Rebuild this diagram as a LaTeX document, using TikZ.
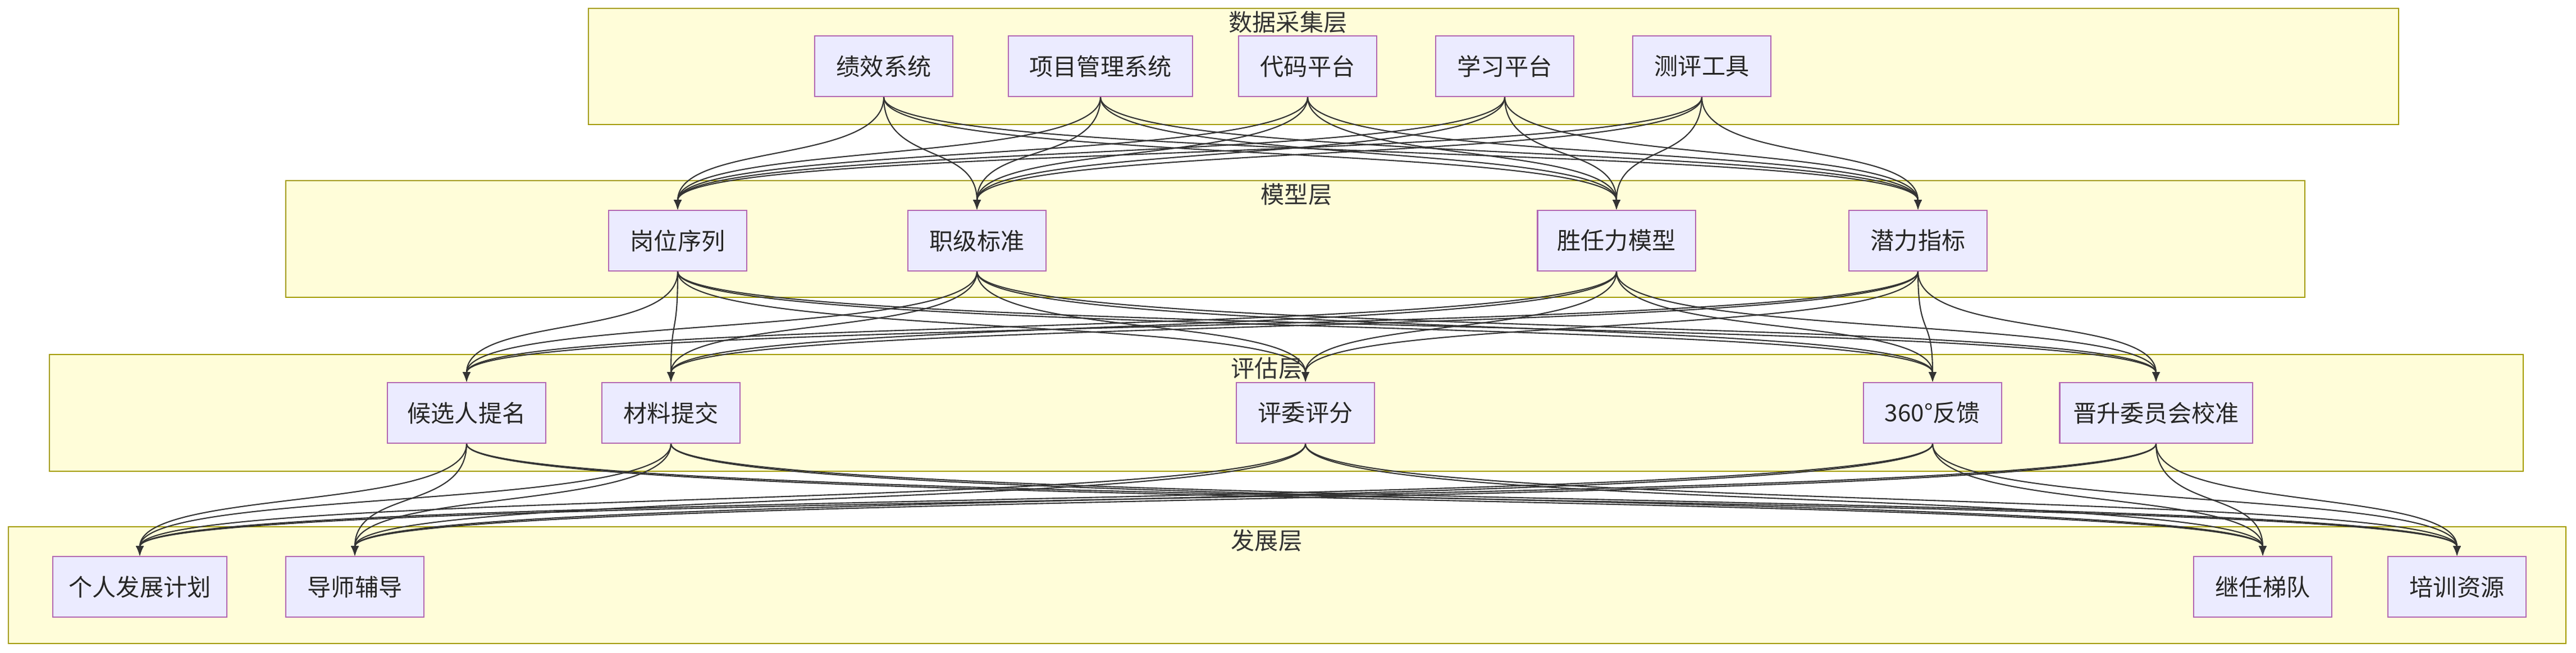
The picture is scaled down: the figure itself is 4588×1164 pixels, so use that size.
\documentclass[tikz,border=0pt]{standalone}
\usepackage{fontspec}
\setmainfont{Noto Sans CJK SC}
\usetikzlibrary{arrows.meta,positioning}
\begin{document}
\begin{tikzpicture}[x=0.01cm,y=-0.01cm,
  layer/.style={draw=olive!80!yellow,fill=yellow!15,line width=0.8pt},
  title/.style={font=\fontsize{12}{14}\selectfont,text=black!80},
  box/.style={rectangle,draw=violet!60,fill=blue!8,line width=0.6pt,minimum height=1.08cm,minimum width=2.46cm,font=\fontsize{12}{14}\selectfont,text=black!85},
  line/.style={draw=black!80,line width=0.6pt,-{Latex[length=5pt,width=4pt]}}]
  \useasboundingbox (0,0) rectangle (4588,1164);
  % layers
  \draw[layer] (1048,15) rectangle (4272,222);
  \draw[layer] (509,322) rectangle (4105,530);
  \draw[layer] (88,632) rectangle (4494,840);
  \draw[layer] (15,939) rectangle (4570,1147);
  \node[title] at (2294,40) {数据采集层};
  \node[title] at (2309,347) {模型层};
  \node[title] at (2256,657) {评估层};
  \node[title] at (2256,964) {发展层};
  % data sources
  \node[box] (perf) at (1574,118) {绩效系统};
  \node[box,minimum width=3.27cm] (pm) at (1960,118) {项目管理系统};
  \node[box] (code) at (2329,118) {代码平台};
  \node[box] (learn) at (2680,118) {学习平台};
  \node[box] (test) at (3031,118) {测评工具};
  % models
  \node[box] (seq) at (1207,429) {岗位序列};
  \node[box] (grade) at (1740,429) {职级标准};
  \node[box,minimum width=2.81cm] (comp) at (2879,429) {胜任力模型};
  \node[box] (pot) at (3416,429) {潜力指标};
  % evaluation
  \node[box,minimum width=2.81cm] (nom) at (831,736) {候选人提名};
  \node[box] (mat) at (1195,736) {材料提交};
  \node[box] (jury) at (2325,736) {评委评分};
  \node[box] (fb) at (3442,736) {360°反馈};
  \node[box,minimum width=3.43cm] (calib) at (3840,736) {晋升委员会校准};
  % development
  \node[box,minimum width=3.1cm] (idp) at (249,1046) {个人发展计划};
  \node[box] (mentor) at (632,1046) {导师辅导};
  \node[box] (succ) at (4030,1046) {继任梯队};
  \node[box] (train) at (4376,1046) {培训资源};
  % connectors
  \foreach \s in {perf,pm,code,learn,test}
    \foreach \t in {seq,grade,comp,pot}
      \draw[line] (\s.south) .. controls +(0,120) and +(0,-120) .. (\t.north);
  \foreach \s in {seq,grade,comp,pot}
    \foreach \t in {nom,mat,fb,calib,jury}
      \draw[line] (\s.south) .. controls +(0,120) and +(0,-120) .. (\t.north);
  \foreach \s in {nom,mat,jury,fb,calib}
    \foreach \t in {idp,mentor,succ,train}
      \draw[line] (\s.south) .. controls +(0,120) and +(0,-120) .. (\t.north);
\end{tikzpicture}
\end{document}
